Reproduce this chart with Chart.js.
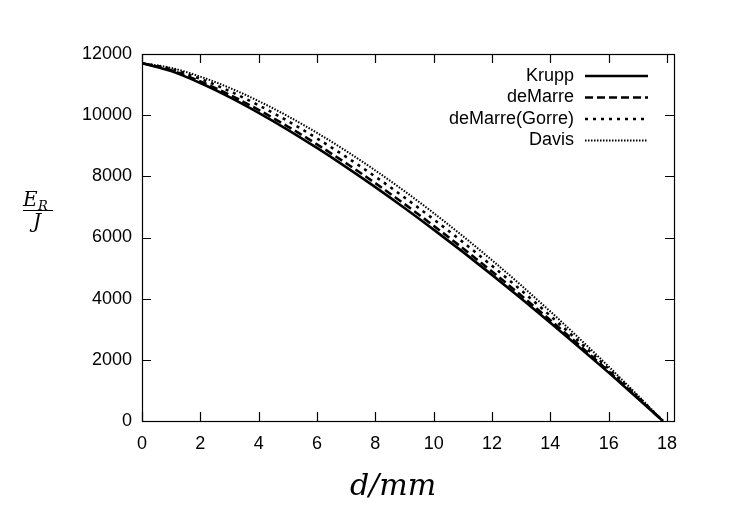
<!DOCTYPE html>
<html>
<head>
<meta charset="utf-8">
<script src="https://cdn.jsdelivr.net/npm/chart.js@4.4.0/dist/chart.umd.min.js"></script>
<style>
    body { margin: 0; background: #fff; }
    #wrap { width: 730px; height: 532px; position: relative; }
</style>
</head>
<body>
<div id="wrap"><canvas id="chart1"></canvas></div>
<script>
// thickness d in mm
var thickness = [0, 1, 2, 3, 4, 5, 6, 7, 8, 9, 10, 11, 12, 13, 14, 15, 16, 17, 17.86];

// residual energy E_R in J
var krupp = [11700, 11440, 11050, 10590, 10076, 9522, 8928, 8302, 7647, 6965, 6258, 5529, 4778, 4007, 3216, 2406, 1582, 738, 0];
var deMarre = [11700, 11468, 11104, 10666, 10171, 9629, 9046, 8428, 7776, 7094, 6383, 5648, 4888, 4104, 3298, 2472, 1625, 761, 0];
var deMarreGorre = [11700, 11510, 11189, 10787, 10323, 9806, 9241, 8635, 7990, 7309, 6595, 5850, 5074, 4272, 3440, 2583, 1704, 798, 0];
var davis = [11700, 11545, 11261, 10895, 10460, 9967, 9422, 8829, 8192, 7515, 6798, 6045, 5257, 4436, 3580, 2694, 1780, 835, 0];

var seriesNames = ['Krupp', 'deMarre', 'deMarre(Gorre)', 'Davis'];
var xTicks = [0, 2, 4, 6, 8, 10, 12, 14, 16, 18];
var yTicks = [0, 2000, 4000, 6000, 8000, 10000, 12000];

function toPoints(values) {
    return values.map(function(v, i) {
        return { x: thickness[i], y: v };
    });
}

// gnuplot style: boxed frame, inward ticks, right aligned key, math titles
var gnuplotLook = {
    id: 'gnuplotLook',
    afterDraw: function(chart) {
        var ctx = chart.ctx;
        var a = chart.chartArea;
        var xs = chart.scales.x, ys = chart.scales.y;
        ctx.save();
        ctx.strokeStyle = '#000';
        ctx.lineWidth = 1.2;
        ctx.strokeRect(a.left + 0.5, a.top + 0.5, a.right - a.left, a.bottom - a.top);

        var tl = 9;
        ctx.beginPath();
        xTicks.forEach(function(t) {
            var px = Math.round(xs.getPixelForValue(t)) + 0.5;
            ctx.moveTo(px, a.bottom); ctx.lineTo(px, a.bottom - tl);
            ctx.moveTo(px, a.top); ctx.lineTo(px, a.top + tl);
        });
        yTicks.forEach(function(t) {
            var py = Math.round(ys.getPixelForValue(t)) + 0.5;
            ctx.moveTo(a.left, py); ctx.lineTo(a.left + tl, py);
            ctx.moveTo(a.right, py); ctx.lineTo(a.right - tl, py);
        });
        ctx.stroke();

        // key
        ctx.font = '18px "Liberation Sans", Arial, sans-serif';
        ctx.fillStyle = '#000';
        ctx.textAlign = 'right';
        ctx.textBaseline = 'middle';
        chart.data.datasets.forEach(function(ds, i) {
            var y = 76 + i * 21.5;
            ctx.fillText(ds.label, 574, y);
            ctx.save();
            ctx.lineWidth = ds.borderWidth;
            ctx.setLineDash(ds.borderDash || []);
            ctx.beginPath();
            ctx.moveTo(585, y);
            ctx.lineTo(648, y);
            ctx.stroke();
            ctx.restore();
        });

        // x title
        ctx.font = 'italic 30px "DejaVu Serif", serif';
        ctx.textAlign = 'center';
        ctx.textBaseline = 'alphabetic';
        ctx.fillText('d/mm', 393, 495);

        // y title as fraction E_R / J
        ctx.textAlign = 'left';
        ctx.font = 'italic 20px "DejaVu Serif", serif';
        ctx.fillText('E', 23, 206);
        ctx.font = 'italic 13px "DejaVu Serif", serif';
        ctx.fillText('R', 38, 210);
        ctx.beginPath();
        ctx.lineWidth = 1;
        ctx.moveTo(23, 210.5);
        ctx.lineTo(53, 210.5);
        ctx.stroke();
        ctx.font = 'italic 20px "DejaVu Serif", serif';
        ctx.textAlign = 'center';
        ctx.fillText('J', 37, 228);
        ctx.restore();
    }
};

var ctx = document.getElementById('chart1').getContext('2d');
var myChart = new Chart(ctx, {
    type: 'line',
    data: {
        datasets: [{
                label: seriesNames[0],
                data: toPoints(krupp),
                borderColor: '#000',
                borderWidth: 2.6,
                borderDash: []
            },
            {
                label: seriesNames[1],
                data: toPoints(deMarre),
                borderColor: '#000',
                borderWidth: 2.6,
                borderDash: [8, 4]
            },
            {
                label: seriesNames[2],
                data: toPoints(deMarreGorre),
                borderColor: '#000',
                borderWidth: 2.6,
                borderDash: [3, 5]
            },
            {
                label: seriesNames[3],
                data: toPoints(davis),
                borderColor: '#000',
                borderWidth: 2,
                borderDash: [1.5, 1.5]
            }
        ]
    },
    options: {
        responsive: true,
        maintainAspectRatio: false,
        animation: false,
        layout: {
            padding: { top: 54, right: 56, left: 0, bottom: 0 }
        },
        elements: {
            point: { radius: 0 },
            line: { tension: 0.4, cubicInterpolationMode: 'monotone', fill: false }
        },
        plugins: {
            legend: { display: false },
            tooltip: { enabled: false }
        },
        scales: {
            x: {
                type: 'linear',
                min: 0,
                max: 18.24,
                afterBuildTicks: function(scale) {
                    scale.ticks = xTicks.map(function(v) { return { value: v }; });
                },
                afterFit: function(scale) {
                    scale.height = 111;
                },
                ticks: {
                    color: '#000',
                    padding: 12,
                    maxRotation: 0,
                    font: { family: '"Liberation Sans", Arial, sans-serif', size: 18 }
                },
                grid: { display: false, drawTicks: false },
                border: { display: false }
            },
            y: {
                min: 0,
                max: 12000,
                afterBuildTicks: function(scale) {
                    scale.ticks = yTicks.map(function(v) { return { value: v }; });
                },
                afterFit: function(scale) {
                    scale.width = 142;
                },
                ticks: {
                    color: '#000',
                    padding: 10,
                    callback: function(v) { return String(v); },
                    font: { family: '"Liberation Sans", Arial, sans-serif', size: 18 }
                },
                grid: { display: false, drawTicks: false },
                border: { display: false }
            }
        }
    },
    plugins: [gnuplotLook]
});
</script>
</body>
</html>
